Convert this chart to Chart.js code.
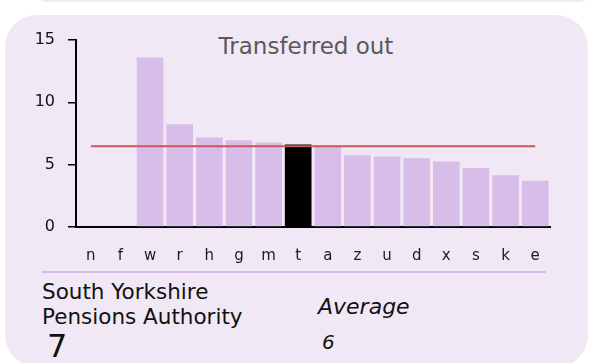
<!DOCTYPE html>
<html>
<head>
<meta charset="utf-8">
<script src="https://cdn.jsdelivr.net/npm/chart.js@4"></script>
<style>
  html, body { margin: 0; padding: 0; background: #ffffff; }
  body { width: 615px; height: 363px; position: relative; overflow: hidden; font-family: "DejaVu Sans", Verdana, sans-serif; }
  .card { position: absolute; background: #f1e8f6; border-radius: 32px; }
  #prev { left: 28px; top: -40px; width: 570px; height: 42px; }
  #main { left: 5px; top: 15px; width: 583px; height: 352px; }
  #chart { position: absolute; left: 0; top: 0; }
  .title { position: absolute; left: 0; width: 612px; top: 33px; text-align: center; font-size: 23px; color: #595959; }
  .sep { position: absolute; left: 42px; top: 271px; width: 504px; height: 2px; background: #d7bde7; }
  .txt { position: absolute; color: #111; }
</style>
</head>
<body>
<div class="card" id="prev"></div>
<div class="card" id="main"></div>
<div class="title">Transferred out</div>
<canvas id="chart" width="615" height="270"></canvas>
<div class="sep"></div>
<div class="txt" id="name" style="left:42px; top:279px; font-size:21.5px; line-height:25px;"></div>
<div class="txt" id="ownValue" style="left:47px; top:328px; font-size:32px; line-height:36px;"></div>
<div class="txt" style="left:318px; top:294px; font-size:22px; font-style:italic;">Average</div>
<div class="txt" id="avgValue" style="left:322px; top:330px; font-size:20px; font-style:italic;"></div>
<script>
'use strict';

var categories = ["n", "f", "w", "r", "h", "g", "m", "t", "a", "z", "u", "d", "x", "s", "k", "e"];
var transferredOut = [null, null, 13.6, 8.25, 7.18, 6.96, 6.78, 6.62, 6.45, 5.76, 5.66, 5.52, 5.26, 4.74, 4.16, 3.7];
var highlight = "t";
var highlightName = "South Yorkshire<br>Pensions Authority";
var averageValue = 6.48;
var yTicks = [0, 5, 10, 15];

var barColors = categories.map(function (c) {
    return c === highlight ? '#000000' : '#d9bde9';
});

document.getElementById('name').innerHTML = highlightName;
document.getElementById('ownValue').textContent = Math.round(transferredOut[categories.indexOf(highlight)]);
document.getElementById('avgValue').textContent = Math.round(averageValue);

var ctx = document.getElementById('chart').getContext('2d');
var chart = new Chart(ctx, {
    type: 'bar',
    data: {
        labels: categories,
        datasets: [{
            type: 'line',
            label: 'Average',
            data: categories.map(function () { return averageValue; }),
            borderColor: '#c8575a',
            borderWidth: 2,
            pointRadius: 0,
            order: 0,
        },
        {
            label: 'Transferred out',
            data: transferredOut,
            backgroundColor: barColors,
            categoryPercentage: 1,
            barPercentage: 0.9,
            order: 1,
        }]
    },
    options: {
        responsive: false,
        animation: false,
        layout: { padding: { left: 0, top: 40, right: 65, bottom: 0 } },
        plugins: { legend: { display: false }, tooltip: { enabled: false } },
        scales: {
            x: {
                border: { color: '#000000', width: 2 },
                grid: { display: false, drawTicks: false },
                ticks: { color: '#1a1a1a', font: { family: 'DejaVu Sans', size: 15 }, padding: 20, maxRotation: 0, autoSkip: false },
                afterFit: function (scale) { scale.height = 43; },
            },
            y: {
                min: 0,
                max: 15,
                border: { color: '#000000', width: 2 },
                grid: { drawOnChartArea: false, drawTicks: true, tickLength: 8, color: '#000000', lineWidth: 1.5 },
                afterBuildTicks: function (scale) {
                    scale.ticks = yTicks.map(function (v) { return { value: v }; });
                },
                ticks: { color: '#111111', font: { family: 'DejaVu Sans', size: 16 }, padding: 13 },
                afterFit: function (scale) { scale.width = 76; },
            }
        }
    },
});
</script>
</body>
</html>
